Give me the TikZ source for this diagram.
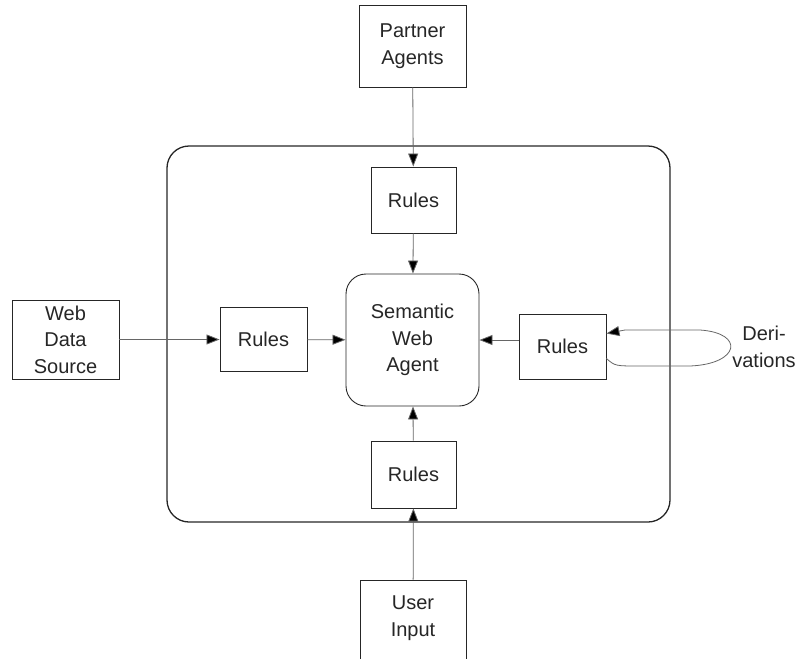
\documentclass[tikz,border=0pt]{standalone}
\usepackage{fontspec}
\setmainfont{Liberation Sans}
\usetikzlibrary{arrows.meta}
\begin{document}
\begin{tikzpicture}[x=1pt,y=-1pt,
  box/.style={draw=black!85, line width=0.9pt, align=center, inner sep=0pt,
    font=\fontsize{20}{26.5}\selectfont, text=black!85},
  arr/.style={draw=black!60, line width=0.8pt, -{Triangle[length=13pt,width=10pt,fill=black]}}]
\useasboundingbox (0,0) rectangle (796,659);
\begin{scope}
\clip (0,0) rectangle (796,659);
\node[draw=black!85, line width=1.3pt, rounded corners=22pt, minimum width=503pt, minimum height=376pt] (outer) at (418.5,334) {};
\node[box, minimum width=107pt, minimum height=82pt] (pa) at (412.5,46) {Partner\\Agents};
\node[box, minimum width=85pt, minimum height=66pt] (r1) at (413.5,200) {Rules};
\node[box, rounded corners=20pt, minimum width=133pt, minimum height=132pt] (swa) at (412.5,340) {Semantic\\Web\\Agent};
\node[box, minimum width=87pt, minimum height=64pt] (r2) at (263.5,339.5) {Rules};
\node[box, minimum width=107pt, minimum height=79pt] (wds) at (65.5,339.5) {Web\\Data\\Source};
\node[box, minimum width=87pt, minimum height=65pt] (r3) at (562.5,346.5) {Rules};
\node[box, minimum width=85pt, minimum height=67pt] (r4) at (413.5,474.5) {Rules};
\node[box, minimum width=106pt, minimum height=82pt, text depth=10pt] (ui) at (413,621) {User\\Input};
\node[align=center, font=\fontsize{20}{26.5}\selectfont, text=black!85, inner sep=0pt] (der) at (764,347) {Deri-\\vations};
\coordinate (ls) at ([yshift=-12pt]r3.east);
\coordinate (le) at ([yshift=13pt]r3.east);
\draw[arr] (pa) -- (r1);
\draw[arr] (r1) -- (swa);
\draw[arr] (wds) -- (r2);
\draw[arr] (r2) -- (swa);
\draw[arr] (swa.east -| r3.west) -- (swa.east);
\draw[arr] (ui) -- (r4);
\draw[arr] (r4) -- (swa);
\draw[arr] (ls) .. controls (615,366) .. (640,366) -- (690,366) .. controls (740,364) and (745,333) .. (700,330) -- (625,330) -- (le);
\end{scope}
\end{tikzpicture}
\end{document}
